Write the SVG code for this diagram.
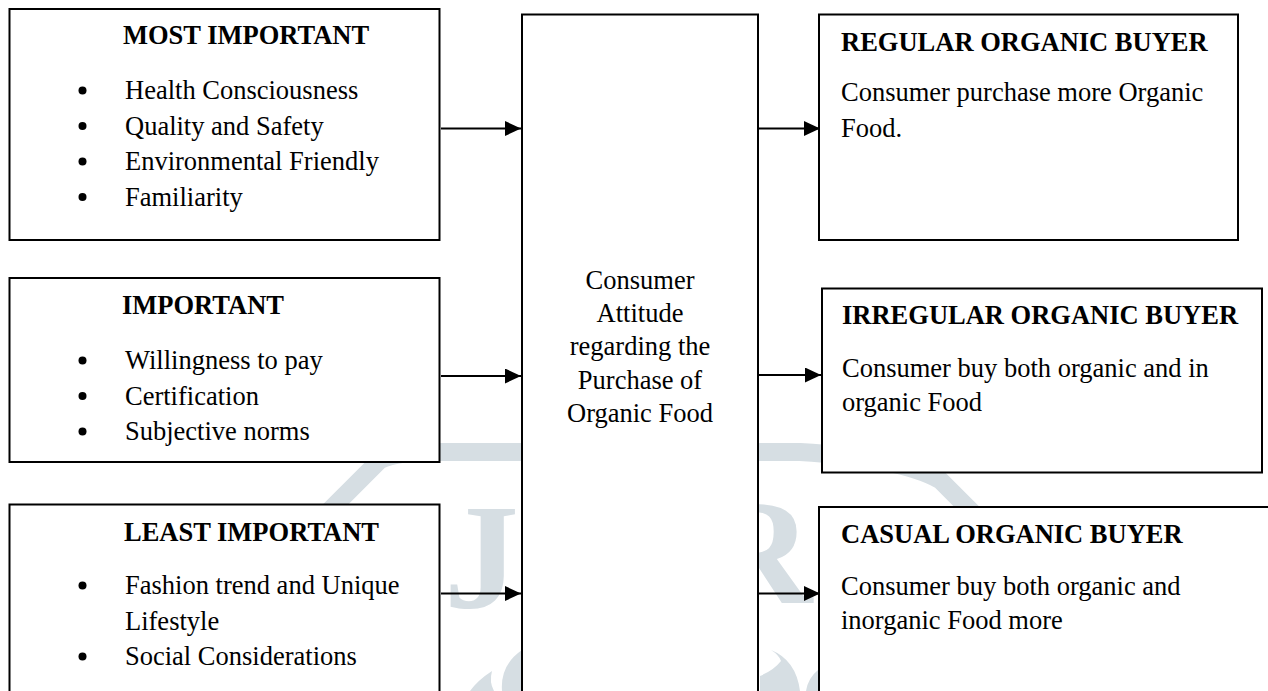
<svg xmlns="http://www.w3.org/2000/svg" width="1268" height="691" viewBox="0 0 1268 691">
<defs>
<style>
.box{fill:#ffffff;stroke:#000000;stroke-width:2}
.t{font-family:"Liberation Serif","Times New Roman",serif;font-size:26.5px;fill:#000000}
.b{font-weight:bold}
.c{text-anchor:middle}
.dot{fill:#000000}
.edge{stroke:#000000;stroke-width:2;fill:none;marker-end:url(#arr)}
.wm{fill:#d6dee3}
.wms{fill:none;stroke:#d6dee3;stroke-width:18;stroke-linecap:butt}
.wmt{font-family:"Liberation Serif","Times New Roman",serif;font-weight:bold;font-size:150px;fill:#d6dee3}
</style>
<marker id="arr" markerUnits="userSpaceOnUse" markerWidth="17" markerHeight="16" refX="16" refY="7.5" orient="auto">
<path d="M0,0 L16,7.5 L0,15 Z" fill="#000000"/>
</marker>
</defs>
<rect width="1268" height="691" fill="#ffffff"/>
<g id="watermark">
<path class="wms" d="M270 570 L380 460 Q400 451 440 452 L800 452 Q900 458 940 480 L1030 570"/>
<text class="wmt" x="444" y="608">J</text>
<text class="wmt" x="704" y="603">R</text>
<path class="wm" d="M470 691 Q478 680 492 671 Q489 682 494 691 Z"/>
<path class="wm" d="M502 691 Q500 665 522 650 L522 691 Z"/>
<path class="wm" d="M760 691 L760 676 Q774 670 781 661 Q779 655 771 650 Q796 660 800 691 Z"/>
<path class="wm" d="M806 691 Q808 678 818 670 L818 691 Z"/>
</g>
<g id="connectors">
<line class="edge" x1="441" y1="128.5" x2="521" y2="128.5"/>
<line class="edge" x1="441" y1="376" x2="521" y2="376"/>
<line class="edge" x1="441" y1="593.5" x2="521" y2="593.5"/>
<line class="edge" x1="759" y1="128.5" x2="820" y2="128.5"/>
<line class="edge" x1="759" y1="375" x2="821" y2="375"/>
<line class="edge" x1="759" y1="593.5" x2="820" y2="593.5"/>
</g>
<g id="most-important">
<rect class="box" x="9.5" y="9" width="430" height="231"/>
<text class="t b" x="123" y="44">MOST IMPORTANT</text>
<circle class="dot" cx="82.5" cy="90.5" r="4"/>
<circle class="dot" cx="82.5" cy="126" r="4"/>
<circle class="dot" cx="82.5" cy="161.5" r="4"/>
<circle class="dot" cx="82.5" cy="197" r="4"/>
<text class="t" x="125" y="99">Health Consciousness</text>
<text class="t" x="125" y="134.5">Quality and Safety</text>
<text class="t" x="125" y="170">Environmental Friendly</text>
<text class="t" x="125" y="205.5">Familiarity</text>
</g>
<g id="important">
<rect class="box" x="9.5" y="278" width="430" height="184"/>
<text class="t b" x="122" y="314">IMPORTANT</text>
<circle class="dot" cx="82.5" cy="360.5" r="4"/>
<circle class="dot" cx="82.5" cy="396" r="4"/>
<circle class="dot" cx="82.5" cy="431.5" r="4"/>
<text class="t" x="125" y="369">Willingness to pay</text>
<text class="t" x="125" y="404.5">Certification</text>
<text class="t" x="125" y="440">Subjective norms</text>
</g>
<g id="least-important">
<rect class="box" x="9.5" y="504.5" width="430" height="200"/>
<text class="t b" x="124" y="541">LEAST IMPORTANT</text>
<circle class="dot" cx="82.5" cy="585.5" r="4"/>
<circle class="dot" cx="82.5" cy="656.5" r="4"/>
<text class="t" x="125" y="594">Fashion trend and Unique</text>
<text class="t" x="125" y="629.5">Lifestyle</text>
<text class="t" x="125" y="665">Social Considerations</text>
</g>
<g id="consumer-attitude">
<rect class="box" x="522" y="14.5" width="236" height="690"/>
<text class="t c" x="640" y="288.5">Consumer</text>
<text class="t c" x="640" y="322">Attitude</text>
<text class="t c" x="640" y="355.3">regarding the</text>
<text class="t c" x="640" y="388.7">Purchase of</text>
<text class="t c" x="640" y="422">Organic Food</text>
</g>
<g id="regular-buyer">
<rect class="box" x="819" y="14.5" width="419" height="225.5"/>
<text class="t b" x="841" y="51">REGULAR ORGANIC BUYER</text>
<text class="t" x="841" y="101">Consumer purchase more Organic</text>
<text class="t" x="841" y="136.5">Food.</text>
</g>
<g id="irregular-buyer">
<rect class="box" x="822" y="288.5" width="440" height="184"/>
<text class="t b" x="842" y="324">IRREGULAR ORGANIC BUYER</text>
<text class="t" x="842" y="377">Consumer buy both organic and in</text>
<text class="t" x="842" y="411">organic Food</text>
</g>
<g id="casual-buyer">
<rect class="box" x="819" y="507" width="460" height="200"/>
<text class="t b" x="841" y="542.5">CASUAL ORGANIC BUYER</text>
<text class="t" x="841" y="594.5">Consumer buy both organic and</text>
<text class="t" x="841" y="629">inorganic Food more</text>
</g>
</svg>
